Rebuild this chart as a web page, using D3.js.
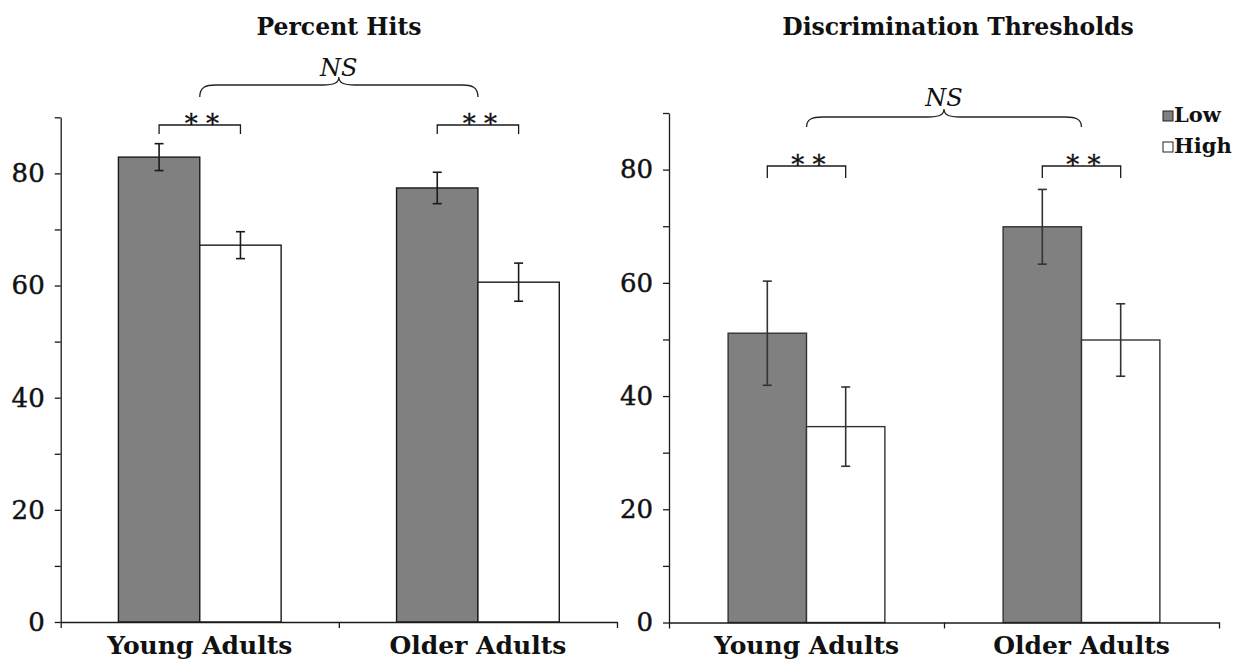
<!DOCTYPE html>
<html>
<head>
<meta charset="utf-8">
<script src="https://cdn.jsdelivr.net/npm/d3@7"></script>
<style>
  html, body { margin: 0; padding: 0; background: #fff; }
  svg { display: block; }
  text { font-family: "DejaVu Serif", "Liberation Serif", serif; fill: #111; }
</style>
</head>
<body>
<svg id="chart" width="1248" height="665"></svg>
<script>
// Groups and conditions
const categories = ["Young Adults", "Older Adults"];
const conditions = ["Low", "High"];

// Percent hits (mean and error)
const hitsLow = [82.9, 77.4];
const hitsLowErr = [2.4, 2.8];
const hitsHigh = [67.2, 60.6];
const hitsHighErr = [2.4, 3.4];

// Discrimination thresholds (mean and error)
const threshLow = [51.1, 69.9];
const threshLowErr = [9.2, 6.6];
const threshHigh = [34.6, 49.9];
const threshHighErr = [7.0, 6.4];

// Axis ticks
const yMajorTicks = [0, 20, 40, 60, 80];
const yMinorTicks = [10, 30, 50, 70, 90];
const yMax = 90;

// Significance labels
const pairLabel = "* *";
const groupLabel = "NS";

const panels = [
  {
    title: "Percent Hits",
    low: hitsLow, lowErr: hitsLowErr, high: hitsHigh, highErr: hitsHighErr,
    layout: { left: 60.7, right: 617, top: 117.3, bottom: 622, titleX: 339, titleY: 35,
              bracketY: 125, bracketDrop: 9, braceY: 85, braceEnd: 12, braceTip: 8, nsY: 76,
              padInner: 0.415, stroke: "#1a1a1a" }
  },
  {
    title: "Discrimination Thresholds",
    low: threshLow, lowErr: threshLowErr, high: threshHigh, highErr: threshHighErr,
    layout: { left: 669, right: 1219, top: 113, bottom: 622.5, titleX: 958, titleY: 35,
              bracketY: 166, bracketDrop: 12, braceY: 117, braceEnd: 10, braceTip: 8, nsY: 106,
              padInner: 0.43, stroke: "#333" }
  }
];

const fills = { Low: "#808080", High: "#ffffff" };

const svg = d3.select("#chart");

panels.forEach(p => {
  const L = p.layout;
  const g = svg.append("g");

  const y = d3.scaleLinear().domain([0, yMax]).range([L.bottom, L.top]);
  const x0 = d3.scaleBand().domain(categories).range([L.left, L.right])
    .paddingInner(L.padInner).paddingOuter(L.padInner / 2);
  const x1 = d3.scaleBand().domain(conditions).range([0, x0.bandwidth()]).padding(0);

  const rows = categories.map((c, i) => ({
    cat: c,
    vals: [
      { cond: "Low", v: p.low[i], e: p.lowErr[i] },
      { cond: "High", v: p.high[i], e: p.highErr[i] }
    ]
  }));

  // Title
  g.append("text")
    .attr("x", L.titleX).attr("y", L.titleY)
    .attr("text-anchor", "middle")
    .attr("font-size", 23.5).attr("font-weight", "bold")
    .text(p.title);

  // Bars
  const groups = g.selectAll("g.grp").data(rows).join("g")
    .attr("class", "grp")
    .attr("transform", d => `translate(${x0(d.cat)},0)`);

  groups.selectAll("rect").data(d => d.vals).join("rect")
    .attr("x", d => x1(d.cond))
    .attr("y", d => y(d.v))
    .attr("width", x1.bandwidth())
    .attr("height", d => y(0) - y(d.v))
    .attr("fill", d => fills[d.cond])
    .attr("stroke", L.stroke)
    .attr("stroke-width", 1.4);

  // Error bars
  const eb = groups.selectAll("g.err").data(d => d.vals).join("g")
    .attr("class", "err")
    .attr("stroke", L.stroke).attr("stroke-width", 1.6);
  eb.append("line")
    .attr("x1", d => x1(d.cond) + x1.bandwidth() / 2)
    .attr("x2", d => x1(d.cond) + x1.bandwidth() / 2)
    .attr("y1", d => y(d.v + d.e)).attr("y2", d => y(d.v - d.e));
  [1, -1].forEach(s => {
    eb.append("line")
      .attr("x1", d => x1(d.cond) + x1.bandwidth() / 2 - 4.5)
      .attr("x2", d => x1(d.cond) + x1.bandwidth() / 2 + 4.5)
      .attr("y1", d => y(d.v + s * d.e)).attr("y2", d => y(d.v + s * d.e));
  });

  // Y axis: labelled major ticks and unlabelled minor ticks
  const yAxisG = g.append("g").attr("transform", `translate(${L.left},0)`)
    .call(d3.axisLeft(y).tickValues(yMajorTicks).tickSize(6).tickSizeOuter(0).tickPadding(10));
  g.append("g").attr("transform", `translate(${L.left},0)`)
    .call(d3.axisLeft(y).tickValues(yMinorTicks).tickSize(6).tickSizeOuter(0).tickFormat(""))
    .select(".domain").remove();
  yAxisG.selectAll("text").attr("font-size", 26).attr("font-family", "DejaVu Serif")
    .attr("fill", "#111").attr("stroke", "#111").attr("stroke-width", 0.45);

  // X axis: boundary ticks between groups, labels at group centres
  const xb = d3.scaleLinear().domain([0, categories.length]).range([L.left, L.right]);
  g.append("g").attr("transform", `translate(0,${L.bottom})`)
    .call(d3.axisBottom(xb).tickValues(d3.range(categories.length + 1)).tickSize(6).tickSizeOuter(0).tickFormat(""));
  const xl = g.append("g").attr("transform", `translate(0,${L.bottom})`)
    .call(d3.axisBottom(x0).tickSize(0).tickPadding(14));
  xl.select(".domain").remove();
  xl.selectAll("text").attr("font-size", 25).attr("font-weight", "bold")
    .attr("font-family", "DejaVu Serif").attr("fill", "#111");

  g.selectAll(".domain, .tick line").attr("stroke", "#1a1a1a").attr("stroke-width", 1.3);

  // Pairwise brackets (Low vs High within each group)
  rows.forEach(r => {
    const xa = x0(r.cat) + x1("Low") + x1.bandwidth() / 2;
    const xbb = x0(r.cat) + x1("High") + x1.bandwidth() / 2;
    g.append("path")
      .attr("d", `M${xa},${L.bracketY + L.bracketDrop}V${L.bracketY}H${xbb}V${L.bracketY + L.bracketDrop}`)
      .attr("fill", "none").attr("stroke", "#1a1a1a").attr("stroke-width", 1.3);
    g.append("text")
      .attr("x", (xa + xbb) / 2 + 2).attr("y", L.bracketY + 8)
      .attr("text-anchor", "middle").attr("font-size", 26)
      .attr("stroke", "#111").attr("stroke-width", 0.3)
      .text(pairLabel);
  });

  // Curly brace between groups
  const bx0 = x0(categories[0]) + x0.bandwidth() / 2;
  const bx1 = x0(categories[1]) + x0.bandwidth() / 2;
  const bm = (L.left + L.right) / 2;
  const r = 16, yb = L.braceY, ye = yb + L.braceEnd, yt = yb - L.braceTip;
  const brace = `M${bx0},${ye} C${bx0},${yb + 2} ${bx0 + 6},${yb} ${bx0 + r},${yb}`
    + ` H${bm - r} C${bm - 5},${yb} ${bm},${yb - 2} ${bm},${yt}`
    + ` C${bm},${yb - 2} ${bm + 5},${yb} ${bm + r},${yb}`
    + ` H${bx1 - r} C${bx1 - 6},${yb} ${bx1},${yb + 2} ${bx1},${ye}`;
  g.append("path").attr("d", brace)
    .attr("fill", "none").attr("stroke", "#222").attr("stroke-width", 1.3);
  g.append("text")
    .attr("x", bm).attr("y", L.nsY)
    .attr("text-anchor", "middle").attr("font-size", 24).attr("font-style", "italic")
    .text(groupLabel);
});

// Legend
const legend = svg.append("g").attr("transform", "translate(1163,111)");
conditions.forEach((c, i) => {
  const row = legend.append("g").attr("transform", `translate(0,${i * 31})`);
  row.append("rect").attr("x", 0).attr("y", 0).attr("width", 10).attr("height", 10)
    .attr("fill", fills[c]).attr("stroke", "#222").attr("stroke-width", 1);
  row.append("text").attr("x", 11).attr("y", 11)
    .attr("font-size", 21).attr("font-weight", "bold").text(c);
});
</script>
</body>
</html>
